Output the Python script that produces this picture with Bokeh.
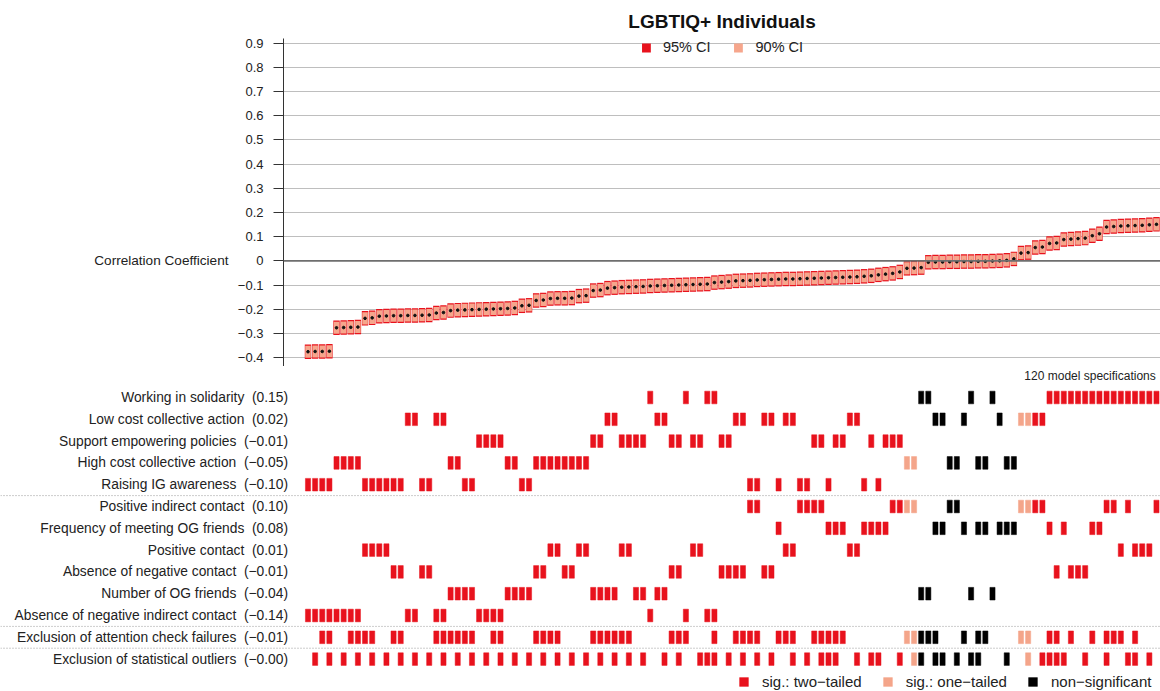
from bokeh.plotting import figure
from bokeh.models import (ColumnDataSource, Range1d, FixedTicker, Legend, LegendItem, Span,
                          LinearAxis)
from bokeh.core.properties import value
from bokeh.embed import file_html
from bokeh.resources import INLINE

FONT = "Liberation Sans"

# ---------------- data (120 specifications, sorted by coefficient) ----------------
coef = [
    -0.376, -0.375, -0.375, -0.374, -0.277, -0.276, -0.275, -0.274, -0.238, -0.236,
    -0.229, -0.228, -0.227, -0.227, -0.226, -0.226, -0.225, -0.224, -0.216, -0.214,
    -0.206, -0.204, -0.203, -0.202, -0.201, -0.200, -0.199, -0.198, -0.197, -0.195,
    -0.186, -0.184, -0.164, -0.162, -0.156, -0.155, -0.155, -0.154, -0.146, -0.144,
    -0.123, -0.121, -0.113, -0.111, -0.109, -0.108, -0.107, -0.106, -0.104, -0.103,
    -0.102, -0.101, -0.100, -0.099, -0.098, -0.097, -0.096, -0.090, -0.088, -0.086,
    -0.083, -0.082, -0.081, -0.079, -0.078, -0.077, -0.076, -0.075, -0.075, -0.074,
    -0.073, -0.072, -0.071, -0.070, -0.069, -0.068, -0.067, -0.066, -0.064, -0.062,
    -0.058, -0.055, -0.052, -0.046, -0.031, -0.030, -0.028, -0.006, -0.005, -0.005,
    -0.004, -0.004, -0.003, -0.003, -0.002, -0.002, -0.001, 0.000, 0.002, 0.008,
    0.032, 0.034, 0.055, 0.057, 0.072, 0.074, 0.088, 0.090, 0.092, 0.094,
    0.104, 0.112, 0.140, 0.142, 0.144, 0.145, 0.146, 0.147, 0.149, 0.151,
]

# half widths of the confidence intervals
ci95_half = 0.030
ci90_half = 0.025

# outcome of each specification (index into outcome_labels)
outcome_idx = [
    4, 4, 4, 4, 3, 3, 3, 3, 4, 4,
    4, 4, 4, 4, 1, 1, 4, 4, 1, 1,
    3, 3, 4, 4, 2, 2, 2, 2, 3, 3,
    4, 4, 3, 3, 3, 3, 3, 3, 3, 3,
    2, 2, 1, 1, 2, 2, 2, 2, 0, 1,
    1, 2, 2, 0, 2, 2, 0, 0, 2, 2,
    1, 1, 4, 4, 1, 1, 4, 1, 1, 4,
    4, 2, 2, 4, 2, 2, 1, 1, 4, 2,
    4, 2, 2, 2, 3, 3, 0, 0, 1, 1,
    3, 3, 1, 0, 3, 3, 0, 1, 3, 3,
    1, 1, 1, 1, 0, 0, 0, 0, 0, 0,
    0, 0, 0, 0, 0, 0, 0, 0, 0, 0,
]

# predictor of each specification (index into predictor_labels)
predictor_idx = [
    5, 5, 5, 5, 5, 5, 5, 5, 2, 2,
    2, 2, 3, 3, 5, 5, 3, 3, 5, 5,
    4, 4, 4, 4, 5, 5, 5, 5, 4, 4,
    4, 4, 3, 3, 2, 2, 3, 3, 2, 2,
    4, 4, 4, 4, 2, 2, 4, 4, 5, 4,
    4, 3, 3, 5, 2, 2, 5, 5, 3, 3,
    3, 3, 0, 0, 3, 3, 1, 2, 2, 0,
    0, 0, 0, 1, 1, 1, 2, 2, 1, 1,
    1, 1, 0, 0, 0, 0, 4, 4, 1, 1,
    0, 0, 1, 4, 1, 1, 4, 1, 1, 1,
    0, 0, 0, 0, 1, 3, 1, 3, 3, 3,
    1, 1, 0, 0, 2, 0, 2, 2, 2, 0,
]

# exclusion of attention check failures (1 = yes)
attention_excl = [
    0, 0, 1, 1, 0, 0, 1, 1, 1, 1,
    0, 0, 1, 1, 0, 0, 0, 0, 1, 1,
    1, 1, 1, 1, 0, 0, 1, 1, 0, 0,
    0, 0, 1, 1, 1, 1, 0, 0, 0, 0,
    1, 1, 1, 1, 1, 1, 0, 0, 0, 0,
    0, 1, 1, 1, 0, 0, 0, 1, 0, 0,
    1, 1, 1, 1, 0, 0, 1, 1, 1, 0,
    0, 1, 1, 1, 1, 1, 0, 0, 0, 0,
    0, 0, 0, 0, 1, 1, 1, 1, 1, 0,
    0, 0, 1, 0, 1, 1, 0, 0, 0, 0,
    1, 1, 0, 0, 1, 1, 0, 1, 0, 0,
    1, 0, 1, 1, 1, 0, 1, 0, 0, 0,
]

# exclusion of statistical outliers (1 = yes)
outlier_excl = [
    0, 1, 0, 1, 0, 1, 0, 1, 0, 1,
    0, 1, 0, 1, 0, 1, 0, 1, 0, 1,
    0, 1, 0, 1, 0, 1, 0, 1, 0, 1,
    0, 1, 0, 1, 0, 1, 0, 1, 0, 1,
    0, 1, 0, 1, 0, 1, 0, 1, 0, 0,
    1, 0, 1, 0, 0, 1, 1, 1, 0, 1,
    0, 1, 0, 1, 0, 1, 0, 0, 1, 0,
    1, 0, 1, 1, 1, 0, 0, 1, 0, 1,
    1, 0, 0, 1, 0, 1, 1, 0, 1, 1,
    0, 1, 0, 1, 1, 0, 0, 0, 1, 0,
    0, 1, 0, 1, 1, 1, 1, 0, 0, 1,
    0, 0, 1, 0, 0, 1, 1, 0, 1, 0,
]

# significance: 0 = two-tailed, 1 = one-tailed, 2 = non-significant
significance = [0] * 84 + [1, 1] + [2] * 14 + [1, 1] + [0] * 18

outcome_labels = ["Working in solidarity", "Low cost collective action",
                  "Support empowering policies", "High cost collective action",
                  "Raising IG awareness"]
outcome_medians = ["(0.15)", "(0.02)", "(\u22120.01)", "(\u22120.05)", "(\u22120.10)"]
predictor_labels = ["Positive indirect contact", "Frequency of meeting OG friends",
                    "Positive contact", "Absence of negative contact",
                    "Number of OG friends", "Absence of negative indirect contact"]
predictor_medians = ["(0.10)", "(0.08)", "(0.01)", "(\u22120.01)", "(\u22120.04)", "(\u22120.14)"]
exclusion_labels = ["Exclusion of attention check failures", "Exclusion of statistical outliers"]
exclusion_medians = ["(\u22120.01)", "(\u22120.00)"]

y_ticks = [0.9, 0.8, 0.7, 0.6, 0.5, 0.4, 0.3, 0.2, 0.1, 0.0, -0.1, -0.2, -0.3, -0.4]
y_tick_labels = ["0.9", "0.8", "0.7", "0.6", "0.5", "0.4", "0.3", "0.2", "0.1", "0",
                 "\u22120.1", "\u22120.2", "\u22120.3", "\u22120.4"]
y_axis_title = "Correlation Coefficient"

sig_names = ["sig.: two\u2212tailed", "sig.: one\u2212tailed", "non\u2212significant"]
sig_colors = ["#E8121D", "#F4A58A", "#000000"]
CI95_COLOR = "#E8121D"
CI90_COLOR = "#F6A68C"

# ---------------- top panel ----------------
n = len(coef)
spec = list(range(n))
top_src = ColumnDataSource(dict(
    spec=spec, coef=coef,
    lo95=[c - ci95_half for c in coef], hi95=[c + ci95_half for c in coef],
    lo90=[c - ci90_half for c in coef], hi90=[c + ci90_half for c in coef],
))

top = figure(width=1160, height=366, output_backend="svg", toolbar_location=None,
             x_range=Range1d(-3.436, 119.564), y_range=Range1d(-0.4372, 0.9199),
             x_axis_type=None, min_border_left=283, min_border_right=0,
             min_border_top=38, min_border_bottom=0)
top.outline_line_color = None
top.title.text = "LGBTIQ+ Individuals"
top.title.align = "center"
top.title.text_font = FONT
top.title.text_font_size = "19px"
top.title.text_font_style = "bold"
top.title.text_color = "#111111"
top.title.standoff = 13

ax = top.yaxis[0]
ax.ticker = FixedTicker(ticks=y_ticks)
ax.major_label_overrides = {t: l for t, l in zip(y_ticks, y_tick_labels)}
ax.major_label_text_font = FONT
ax.major_label_text_font_size = "13px"
ax.major_label_text_color = "#222222"
ax.major_tick_out = 10
ax.major_tick_in = 0
ax.minor_tick_out = 0
ax.minor_tick_in = 0
ax.major_label_standoff = 10
ax.axis_line_color = "#333333"
ax.major_tick_line_color = "#333333"
top.ygrid.grid_line_color = "#BEBEBE"
top.ygrid.grid_line_width = 1
top.add_layout(Span(location=0, dimension="width", line_color="#6E6E6E", line_width=1.6))

# horizontal axis title at the zero line, drawn as a second (outer) left axis
title_axis = LinearAxis(ticker=FixedTicker(ticks=[0.0]),
                        major_label_overrides={0.0: y_axis_title})
title_axis.axis_line_color = None
title_axis.major_tick_line_color = None
title_axis.minor_tick_line_color = None
title_axis.major_tick_out = 0
title_axis.major_tick_in = 0
title_axis.major_label_standoff = 6
title_axis.major_label_text_font = FONT
title_axis.major_label_text_font_size = "13.6px"
title_axis.major_label_text_color = "#222222"
top.add_layout(title_axis, "left")

r95 = top.vbar(x="spec", width=0.9, bottom="lo95", top="hi95", source=top_src,
               fill_color=CI95_COLOR, line_color=None)
r90 = top.vbar(x="spec", width=0.78, bottom="lo90", top="hi90", source=top_src,
               fill_color=CI90_COLOR, line_color=None)
top.scatter(x="spec", y="coef", source=top_src, size=2.6, color="#111111")

leg_top = Legend(items=[LegendItem(label="95% CI", renderers=[r95]),
                        LegendItem(label="90% CI", renderers=[r90])],
                 orientation="horizontal", location="top_center",
                 border_line_color=None, background_fill_alpha=0,
                 label_text_font=FONT, label_text_font_size="14.5px",
                 label_text_color="#222222",
                 glyph_width=11, glyph_height=11, label_standoff=12,
                 spacing=22, padding=0, margin=1)
top.add_layout(leg_top)

# ---------------- bottom panel ----------------
row_labels = outcome_labels + predictor_labels + exclusion_labels
row_medians = outcome_medians + predictor_medians + exclusion_medians
n_out = len(outcome_labels)
n_pred = len(predictor_labels)

mark = {0: dict(x=[], y=[]), 1: dict(x=[], y=[]), 2: dict(x=[], y=[])}
for i in range(n):
    rows = [outcome_idx[i], n_out + predictor_idx[i]]
    if attention_excl[i]:
        rows.append(n_out + n_pred)
    if outlier_excl[i]:
        rows.append(n_out + n_pred + 1)
    for r in rows:
        mark[significance[i]]["x"].append(spec[i])
        mark[significance[i]]["y"].append(-r)

bot = figure(width=1160, height=325, output_backend="svg", toolbar_location=None,
             x_range=Range1d(-43.128, 119.564), y_range=Range1d(-13.486, 1.422),
             x_axis_type=None, y_axis_type=None,
             min_border_left=0, min_border_right=0, min_border_top=0, min_border_bottom=0)
bot.outline_line_color = None
bot.xgrid.visible = False
bot.ygrid.visible = False

sig_renderers = []
for k in range(3):
    src = ColumnDataSource(mark[k])
    r = bot.rect(x="x", y="y", width=0.72, height=0.58, source=src,
                 fill_color=sig_colors[k], line_color=sig_colors[k], line_width=0.5)
    sig_renderers.append(r)

lab_src = ColumnDataSource(dict(
    y=[-i for i in range(len(row_labels))],
    text=[f"{l}\u00a0 {m}" for l, m in zip(row_labels, row_medians)],
))
bot.text(x=-2.8, y="y", text="text", source=lab_src, text_align="right",
         text_baseline="middle", text_font=value(FONT), text_font_size="13.8px",
         text_color="#222222")

for loc in [-(n_out - 0.5), -(n_out + n_pred - 0.5), -(n_out + n_pred + 0.5)]:
    bot.add_layout(Span(location=loc, dimension="width", line_color="#9A9A9A",
                        line_width=1, line_dash="1 2"))

bot.text(x=[118.9], y=[1.0], text=[f"{n} model specifications"], text_align="right",
         text_baseline="middle", text_font=value(FONT), text_font_size="12px",
         text_color="#222222")

leg_bot = Legend(items=[LegendItem(label=sig_names[k], renderers=[sig_renderers[k]]) for k in range(3)],
                 orientation="horizontal", location=(738, 1),
                 border_line_color=None, background_fill_alpha=0,
                 label_text_font=FONT, label_text_font_size="15px",
                 label_text_color="#222222",
                 glyph_width=11, glyph_height=11, label_standoff=13,
                 spacing=20, padding=0, margin=0)
bot.add_layout(leg_bot)

open("out.html", "w").write(file_html([top, bot], INLINE))
